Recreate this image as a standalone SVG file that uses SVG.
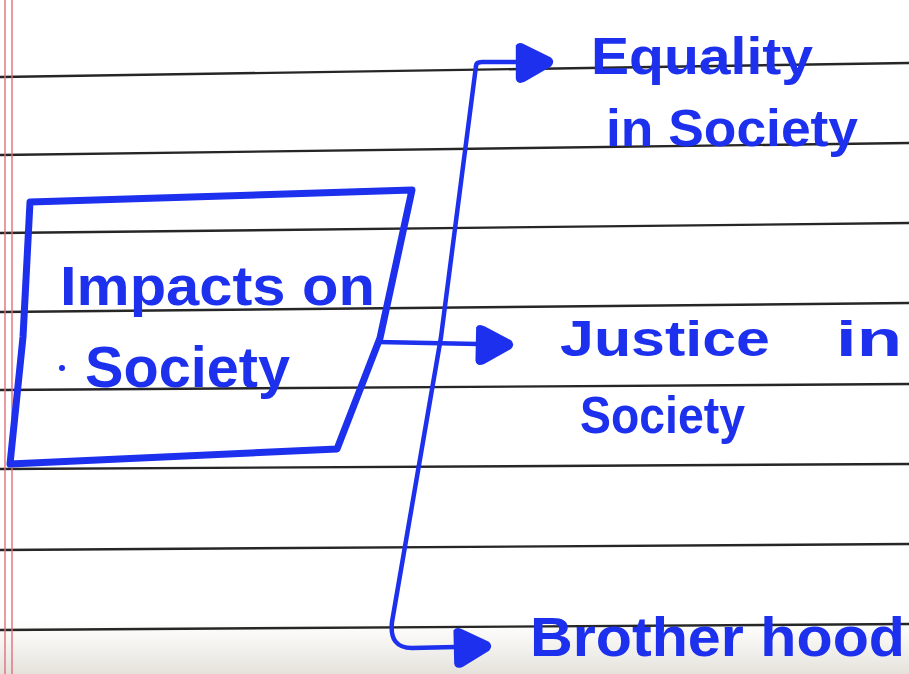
<svg xmlns="http://www.w3.org/2000/svg" width="909" height="674" viewBox="0 0 909 674">
  <defs>
    <style>
      .rule{stroke:#262626;stroke-width:2.4;fill:none}
      .margin{stroke:#e0707a;stroke-width:1.4;fill:none}
      .ink{stroke:#1c30ee;fill:none;stroke-linecap:round;stroke-linejoin:round}
      .box{stroke-width:7}
      .conn{stroke-width:4.5}
      .lbl{fill:#1c30ee;font-family:"Liberation Sans","DejaVu Sans",sans-serif;font-weight:bold}
    </style>
    <marker id="ah" viewBox="0 -20 40 40" refX="4" refY="0" markerUnits="userSpaceOnUse" markerWidth="44" markerHeight="44" orient="auto">
      <path d="M2,-15 Q4,-19 10,-16 L34,-4 Q38,0 34,4 L10,18 Q3,21 2,15 Z" fill="#1c30ee"/>
    </marker>
    <linearGradient id="shade" x1="0" y1="0" x2="0" y2="1">
      <stop offset="0" stop-color="#d8d4c8" stop-opacity="0"/>
      <stop offset="1" stop-color="#cfcabd" stop-opacity="0.55"/>
    </linearGradient>
  </defs>

  <rect x="0" y="0" width="909" height="674" fill="#ffffff"/>
  <rect x="0" y="620" width="909" height="54" fill="url(#shade)"/>

  <g id="paper">
    <path class="rule" d="M0,77 L909,63"/>
    <path class="rule" d="M0,155 L909,143"/>
    <path class="rule" d="M0,233 L909,223"/>
    <path class="rule" d="M0,312 L909,303"/>
    <path class="rule" d="M0,390 L909,384"/>
    <path class="rule" d="M0,469 L909,464"/>
    <path class="rule" d="M0,550 L909,544"/>
    <path class="rule" d="M0,630 L909,624"/>
    <path class="margin" d="M5,0 L5,674"/>
    <path class="margin" d="M12,0 L12,674"/>
  </g>

  <g id="connectors">
    <path class="ink conn" d="M476,66 L441,337 L392,622 Q389,648 412,648 L456,647" marker-end="url(#ah)"/>
    <path class="ink conn" d="M476,66 Q476,62 482,62 L518,62" marker-end="url(#ah)"/>
    <path class="ink conn" d="M378,342 L478,344" marker-end="url(#ah)"/>
  </g>

  <g id="node-impacts">
    <path class="ink box" d="M30,202 L412,190 L380,338 L337,449 L10,464 L23,337 Z"/>
    <text class="lbl" x="60" y="305" font-size="56" textLength="315" lengthAdjust="spacingAndGlyphs">Impacts on</text>
    <circle cx="62" cy="368" r="3" fill="#1c30ee"/>
    <text class="lbl" x="85" y="387" font-size="58" textLength="205" lengthAdjust="spacingAndGlyphs">Society</text>
  </g>

  <g id="node-equality">
    <text class="lbl" x="591" y="74" font-size="52" textLength="222" lengthAdjust="spacingAndGlyphs">Equality</text>
    <text class="lbl" x="606" y="146" font-size="52" textLength="252" lengthAdjust="spacingAndGlyphs">in Society</text>
  </g>

  <g id="node-justice">
    <text class="lbl" x="560" y="356" font-size="50"><tspan textLength="210" lengthAdjust="spacingAndGlyphs">Justice</tspan><tspan x="836" textLength="66" lengthAdjust="spacingAndGlyphs">in</tspan></text>
    <text class="lbl" x="580" y="433" font-size="52" textLength="165" lengthAdjust="spacingAndGlyphs">Society</text>
  </g>

  <g id="node-brotherhood">
    <text class="lbl" x="530" y="656" font-size="56" textLength="375" lengthAdjust="spacingAndGlyphs">Brother hood</text>
  </g>
</svg>
